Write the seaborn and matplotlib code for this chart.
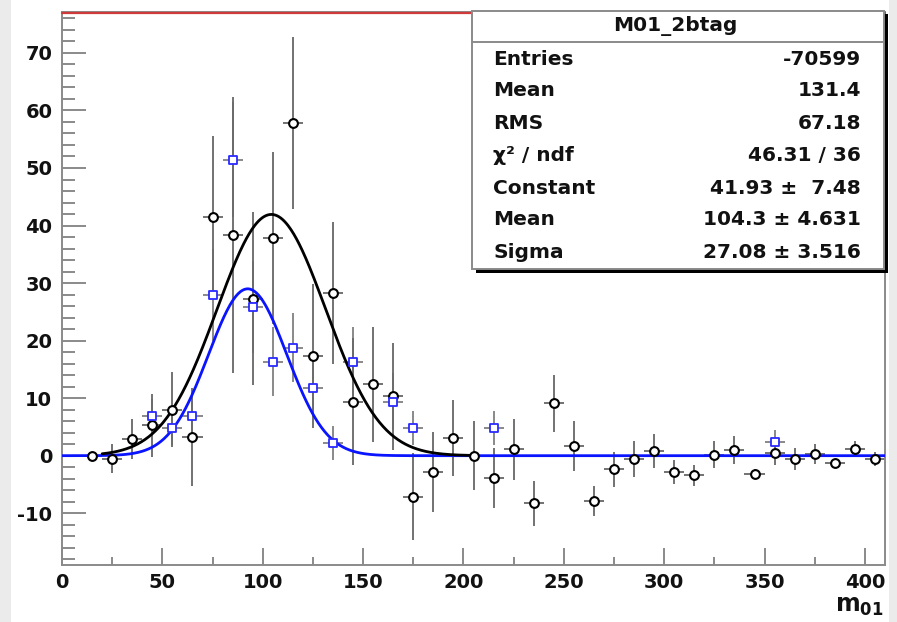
import numpy as np
import pandas as pd
import matplotlib
matplotlib.use("Agg")
import matplotlib.pyplot as plt
from matplotlib.patches import Rectangle
from matplotlib.ticker import MultipleLocator
import seaborn as sns

# ---------------- data ----------------
bin_centers = [15, 25, 35, 45, 55, 65, 75, 85, 95, 105, 115, 125, 135, 145, 155, 165, 175, 185,
               195, 205, 215, 225, 235, 245, 255, 265, 275, 285, 295, 305, 315, 325, 335, 345,
               355, 365, 375, 385, 395, 405]
black_vals = [0.0, -0.5, 2.9, 5.3, 8.0, 3.2, 41.5, 38.3, 27.3, 37.8, 57.8, 17.3, 28.3, 9.4, 12.4,
              10.3, -7.1, -2.8, 3.1, 0.0, -3.9, 1.1, -8.3, 9.1, 1.7, -7.9, -2.4, -0.6, 0.8, -2.9,
              -3.4, 0.2, 1.0, -3.1, 0.4, -0.6, 0.3, -1.2, 1.1, -0.6]
black_errs = [0.0, 2.5, 3.5, 5.5, 6.5, 8.5, 14.0, 24.0, 15.0, 15.0, 15.0, 12.5, 12.4, 11.0, 10.0,
              9.3, 7.6, 7.0, 6.6, 6.0, 5.2, 5.3, 3.9, 5.0, 4.3, 2.6, 3.0, 3.1, 3.0, 2.1,
              1.8, 2.4, 2.4, 0.8, 2.0, 1.9, 1.7, 0.7, 1.4, 1.2]

blue_x = [45, 55, 65, 75, 85, 95, 105, 115, 125, 135, 145, 165, 175, 215, 355]
blue_vals = [6.9, 4.8, 6.9, 27.9, 51.4, 25.8, 16.3, 18.8, 11.7, 2.2, 16.3, 9.4, 4.8, 4.8, 2.3]
blue_errs = [3.0, 3.0, 4.0, 8.0, 10.0, 8.0, 6.0, 6.0, 5.0, 3.0, 6.0, 5.0, 3.0, 3.0, 2.2]

# fit parameters (black from stats box, blue)
fit_black = dict(const=41.93, mean=104.3, sigma=27.08, lo=20, hi=205)
fit_blue = dict(const=29.0, mean=92.5, sigma=19.5, lo=0, hi=410)

stats_title = "M01_2btag"
stats_labels = ["Entries", "Mean", "RMS", "χ² / ndf", "Constant", "Mean", "Sigma"]
stats_values = ["-70599", "131.4", "67.18", "46.31 / 36", "41.93 ±  7.48", "104.3 ± 4.631", "27.08 ± 3.516"]

x_ticks = [0, 50, 100, 150, 200, 250, 300, 350, 400]
y_ticks = [-10, 0, 10, 20, 30, 40, 50, 60, 70]

# ---------------- style ----------------
sns.set_theme(style="white")
plt.rcParams["font.family"] = ["DejaVu Sans"]
plt.rcParams["font.weight"] = "bold"
plt.rcParams["axes.unicode_minus"] = False
plt.rcParams["mathtext.fontset"] = "custom"
plt.rcParams["mathtext.rm"] = "DejaVu Sans:bold"
plt.rcParams["mathtext.bf"] = "DejaVu Sans:bold"

W, H = 897, 622
fig = plt.figure(figsize=(W / 100, H / 100), dpi=100, facecolor="white")
ax = fig.add_axes([62 / W, 1 - 565 / H, (885 - 62) / W, (565 - 11.5) / H])
ax.set_facecolor("white")

# side gray strips of the background
fig.patches.append(Rectangle((0, 0), 11 / W, 1, transform=fig.transFigure,
                             facecolor="#ebebeb", edgecolor="none", zorder=-5))
fig.patches.append(Rectangle((889 / W, 0), 8 / W, 1, transform=fig.transFigure,
                             facecolor="#ebebeb", edgecolor="none", zorder=-5))

XMIN, XMAX, YMIN, YMAX = 0, 410, -19.0, 77.2

# fits
def gauss(x, c, m, s):
    return c * np.exp(-0.5 * ((x - m) / s) ** 2)

xb = np.linspace(fit_black["lo"], fit_black["hi"], 400)
df_black_fit = pd.DataFrame({"x": xb, "y": gauss(xb, fit_black["const"], fit_black["mean"], fit_black["sigma"])})
xl = np.linspace(fit_blue["lo"], fit_blue["hi"], 800)
df_blue_fit = pd.DataFrame({"x": xl, "y": gauss(xl, fit_blue["const"], fit_blue["mean"], fit_blue["sigma"])})

# error bars
ax.errorbar(bin_centers, black_vals, yerr=black_errs, xerr=5, fmt="none",
            ecolor="#5a5a5a", elinewidth=1.2, capsize=0, zorder=2)
ax.errorbar(blue_x, blue_vals, yerr=blue_errs, xerr=5, fmt="none",
            ecolor="#6a6a6a", elinewidth=1.1, capsize=0, zorder=2)

sns.lineplot(data=df_blue_fit, x="x", y="y", color="#0a14ff", linewidth=2.0, ax=ax, zorder=3)
sns.lineplot(data=df_black_fit, x="x", y="y", color="black", linewidth=2.0, ax=ax, zorder=3)

df_black = pd.DataFrame({"x": bin_centers, "y": black_vals})
df_blue = pd.DataFrame({"x": blue_x, "y": blue_vals})
sns.scatterplot(data=df_black, x="x", y="y", marker="o", s=40, facecolor="white",
                edgecolor="black", linewidth=1.5, ax=ax, zorder=4)
sns.scatterplot(data=df_blue, x="x", y="y", marker="s", s=36, facecolor="white",
                edgecolor="#2a2aff", linewidth=1.3, ax=ax, zorder=5)

ax.set_xlim(XMIN, XMAX)
ax.set_ylim(YMIN, YMAX)
ax.set_xlabel("")
ax.set_ylabel("")
ax.set_xticks(x_ticks)
ax.set_yticks(y_ticks)
ax.xaxis.set_minor_locator(MultipleLocator(25))
ax.yaxis.set_minor_locator(MultipleLocator(2))
ax.tick_params(axis="x", which="major", direction="in", length=12, width=1.2, color="#777777",
               labelsize=14, pad=6, bottom=True, top=False)
ax.tick_params(axis="x", which="minor", direction="in", length=6, width=1.2, color="#777777",
               bottom=True, top=False)
ax.tick_params(axis="y", which="major", direction="in", length=17, width=1.2, color="#777777",
               labelsize=14, pad=7, left=True, right=False)
ax.tick_params(axis="y", which="minor", direction="in", length=9, width=1.2, color="#777777",
               left=True, right=False)
for lab in ax.get_xticklabels() + ax.get_yticklabels():
    lab.set_fontweight("bold")
    lab.set_color("#111111")

for sp in ax.spines.values():
    sp.set_visible(True)
    sp.set_color("#8a8a8a")
    sp.set_linewidth(1.4)
ax.axhline(YMAX - 0.25, color="#d03a3a", linewidth=1.6, zorder=6, clip_on=False)

if ax.get_legend() is not None:
    ax.get_legend().remove()

# x label
fig.text(884 / W, 1 - 606 / H, r"$\mathbf{m_{01}}$", ha="right", va="center",
         fontsize=17, color="#111111")

# ---------------- stats box ----------------
bx0, bx1, by0, by1 = 471.5, 883.5, 10.5, 268.5  # pixels (y from top)
def fx(px):
    return px / W
def fy(py):
    return 1 - py / H

fig.patches.append(Rectangle((fx(bx0 + 4), fy(by1 + 4)), fx(bx1 - bx0), (by1 - by0) / H,
                             transform=fig.transFigure, facecolor="black", edgecolor="none", zorder=10))
fig.patches.append(Rectangle((fx(bx0), fy(by1)), fx(bx1 - bx0), (by1 - by0) / H,
                             transform=fig.transFigure, facecolor="white", edgecolor="#8a8a8a",
                             linewidth=1.4, zorder=11))
fig.lines.append(plt.Line2D([fx(bx0), fx(bx1)], [fy(41.5), fy(41.5)], transform=fig.transFigure,
                            color="#8a8a8a", linewidth=1.4, zorder=12))
fig.text(fx(675), fy(26.5), stats_title, ha="center", va="center", fontsize=14.5,
         fontweight="bold", color="#111111", zorder=13)
row_y = [59.3, 91.0, 123.3, 155.5, 188.0, 219.5, 253.0]
for lab, val, yy in zip(stats_labels, stats_values, row_y):
    fig.text(fx(493), fy(yy), lab, ha="left", va="center", fontsize=14.5, fontweight="bold",
             color="#111111", zorder=13)
    fig.text(fx(861), fy(yy), val, ha="right", va="center", fontsize=14.5, fontweight="bold",
             color="#111111", zorder=13)

fig.savefig("out.png", dpi=100, facecolor=fig.get_facecolor())
